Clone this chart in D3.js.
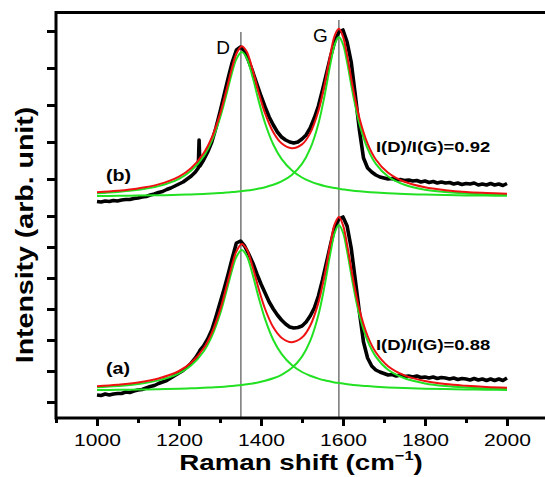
<!DOCTYPE html>
<html>
<head>
<meta charset="utf-8">
<script src="https://cdn.jsdelivr.net/npm/d3@7"></script>
<style>
  body { margin: 0; background: #fff; }
  text { font-family: "Liberation Sans", Arial, sans-serif; }
</style>
</head>
<body>
<svg id="chart" width="545" height="477"></svg>
<script>
// measured spectra, Raman shift in cm-1, intensity in arb. counts
var rawShift = [1000,1010,1020,1030,1040,1050,1060,1070,1080,1090,1100,1110,1120,1130,1140,1150,1160,1170,1180,1190,
  1200,1210,1220,1230,1240,1247,1249,1251,1260,1270,1280,1290,1300,1310,1320,1330,1340,1350,1360,1370,1380,1390,
  1400,1410,1420,1430,1440,1450,1460,1470,1480,1490,1500,1510,1520,1530,1540,1550,1560,1570,1580,1590,1600,1610,
  1620,1630,1640,1650,1660,1670,1680,1690,1700,1710,1720,1730,1740,1750,1760,1770,1780,1790,1800,1810,1820,1830,
  1840,1850,1860,1870,1880,1890,1900,1910,1920,1930,1940,1950,1960,1970,1980,1990,2000];

var rawA = [230,225,240,230,240,245,245,260,255,270,280,285,300,315,325,345,360,375,400,425,
  450,475,510,550,600,645,660,675,720,790,880,1010,1150,1290,1440,1600,1750,1770,1720,1640,1550,1440,
  1340,1250,1160,1090,1030,980,940,910,900,905,920,960,1020,1100,1220,1380,1560,1740,1910,1990,2010,1920,
  1700,1380,1060,760,600,520,480,460,445,430,435,420,430,415,420,410,420,405,410,400,410,395,
  405,400,390,400,385,395,390,380,395,380,390,375,390,375,390,375,400];

var rawB = [265,260,270,265,275,270,280,285,285,295,300,310,315,330,340,355,365,385,400,420,
  440,460,490,520,560,600,880,620,680,760,860,1000,1160,1330,1500,1660,1780,1810,1770,1670,1560,1440,
  1320,1210,1110,1030,960,910,880,860,850,860,890,930,1000,1100,1220,1380,1550,1720,1870,1960,1980,1860,
  1660,1330,980,700,600,560,530,510,500,490,495,480,485,475,480,470,475,460,470,455,465,450,
  460,450,455,440,450,435,445,440,450,430,440,430,445,430,440,425,445];

// Lorentzian fits: total (red), D band and G band (green)
var fitShift = [1000,1050,1100,1150,1200,1230,1260,1280,1300,1315,1330,1340,1353,1365,1380,1395,1410,1430,1450,1475,
  1500,1520,1540,1555,1570,1580,1590,1600,1610,1625,1640,1660,1680,1710,1750,1800,1850,1900,1950,2000];

var fitA  = [317,332,354,395,470,554,697,852,1079,1302,1538,1666,1740,1689,1505,1282,1090,907,803,758,
  804,923,1154,1428,1760,1941,2010,1929,1734,1382,1085,820,657,518,426,369,339,322,310,302];
var fitDA = [307,320,340,376,447,527,665,816,1038,1257,1488,1612,1680,1622,1429,1195,988,780,641,529,
  460,422,394,377,364,356,350,344,338,331,325,319,313,306,299,293,289,286,283,281];
var fitGA = [280,282,284,288,293,297,302,306,311,315,320,324,330,337,346,357,372,397,432,499,
  614,771,1030,1321,1666,1855,1930,1855,1666,1321,1030,771,614,482,397,346,320,306,297,291];

var fitB  = [358,373,396,436,514,600,747,905,1139,1369,1612,1742,1818,1765,1575,1345,1146,957,847,798,
  836,949,1170,1433,1753,1927,1992,1914,1726,1386,1100,843,685,552,462,407,378,360,350,342];
var fitDB = [348,361,382,419,492,574,716,871,1100,1325,1563,1690,1760,1701,1502,1261,1048,835,691,577,
  505,466,437,420,407,399,392,386,380,373,367,360,354,347,340,334,329,326,324,322];
var fitGB = [320,322,324,327,332,336,341,344,349,354,359,362,368,374,383,394,408,432,466,531,
  641,793,1043,1323,1656,1838,1910,1838,1656,1323,1043,793,641,515,432,383,359,344,336,330];

var offsetB = 1900;   // spectrum (b) is stacked above (a)

var peakLines = [{ name: "D", shift: 1351, top: 3860 }, { name: "G", shift: 1590, top: 3980 }];
var ratios = [{ label: "I(D)/I(G)=0.88", level: 680 }, { label: "I(D)/I(G)=0.92", level: 2660 }];
var sampleNames = [{ label: "(a)", level: 440 }, { label: "(b)", level: 2370 }];

var xMajor = [1000, 1200, 1400, 1600, 1800, 2000];
var xMinor = [900, 1100, 1300, 1500, 1700, 1900, 2100];
var yTicks = [160, 470, 780, 1090, 1400, 1710, 2020, 2390, 2760, 3130, 3500, 3870];

var svg = d3.select("#chart");
var x = d3.scaleLinear().domain([900, 2100]).range([56, 548]);
var y = d3.scaleLinear().domain([0, 4060]).range([418, 12]);

// stretched text helper (the original lettering is wide)
function addText(px, py, txt, size, weight, stretch, anchor) {
  return svg.append("text")
    .attr("transform", "translate(" + px + "," + py + ") scale(" + stretch + ",1)")
    .attr("text-anchor", anchor || "start")
    .style("font-size", size + "px")
    .style("font-weight", weight)
    .text(txt);
}

// peak position markers
peakLines.forEach(function(p) {
  svg.append("line")
    .attr("x1", x(p.shift)).attr("x2", x(p.shift))
    .attr("y1", y(p.top)).attr("y2", y(0) - 1)
    .attr("stroke", "#444").attr("stroke-width", 1.1);
  addText(x(p.shift) - 11, y(p.top) + 21.5, p.name, 19, "normal", 1, "end");
});

function series(xs, ys, off) {
  return xs.map(function(d, i) { return [d, ys[i] + off]; });
}

var rawLine = d3.line().x(function(d) { return x(d[0]); }).y(function(d) { return y(d[1]); });
var fitLine = d3.line().x(function(d) { return x(d[0]); }).y(function(d) { return y(d[1]); })
  .curve(d3.curveCatmullRom);

var spectra = [
  { raw: rawA, fit: fitA, d: fitDA, g: fitGA, off: 0 },
  { raw: rawB, fit: fitB, d: fitDB, g: fitGB, off: offsetB }
];

spectra.forEach(function(s) {
  svg.append("path").attr("d", rawLine(series(rawShift, s.raw, s.off)))
    .attr("fill", "none").attr("stroke", "#000").attr("stroke-width", 3.6)
    .attr("stroke-linejoin", "round");
  [s.d, s.g].forEach(function(band) {
    svg.append("path").attr("d", fitLine(series(fitShift, band, s.off)))
      .attr("fill", "none").attr("stroke", "#22e022").attr("stroke-width", 2);
  });
  svg.append("path").attr("d", fitLine(series(fitShift, s.fit, s.off)))
    .attr("fill", "none").attr("stroke", "#ee1111").attr("stroke-width", 2);
});

// axes
var xAxis = svg.append("g").attr("transform", "translate(0," + y(0) + ")")
  .call(d3.axisBottom(x).tickValues(xMajor).tickSize(8).tickPadding(8).tickFormat(d3.format("d")));
svg.append("g").attr("transform", "translate(0," + y(0) + ")")
  .call(d3.axisBottom(x).tickValues(xMinor).tickSize(5).tickFormat(""));
svg.append("g").attr("transform", "translate(" + x(900) + ",0)")
  .call(d3.axisLeft(y).tickValues(yTicks).tickSize(9).tickFormat(""));

svg.selectAll(".domain").remove();
svg.selectAll(".tick line").attr("stroke", "#000").attr("stroke-width", 3);
xAxis.selectAll(".tick text")
  .attr("transform", "scale(1.24,1)")
  .style("font-size", "17px").style("fill", "#000").style("font-family", "'Liberation Sans', Arial, sans-serif");

svg.append("rect")
  .attr("x", x(900)).attr("y", y(4060) + 0.5)
  .attr("width", x(2100) - x(900)).attr("height", y(0) - y(4060) - 0.5)
  .attr("fill", "none").attr("stroke", "#000").attr("stroke-width", 3);

// annotations
ratios.forEach(function(r) { addText(376, y(r.level), r.label, 15, "bold", 1.23); });
sampleNames.forEach(function(s) { addText(106, y(s.level), s.label, 16, "bold", 1.23); });

// axis titles
var xt = svg.append("text")
  .attr("transform", "translate(301,470) scale(1.26,1)")
  .attr("text-anchor", "middle")
  .style("font-size", "22px").style("font-weight", "bold");
xt.append("tspan").text("Raman shift (cm");
xt.append("tspan").attr("dy", -10).style("font-size", "13px").text("\u22121");
xt.append("tspan").attr("dy", 10).text(")");

svg.append("text")
  .attr("transform", "translate(33,235) rotate(-90) scale(1.24,1)")
  .attr("text-anchor", "middle")
  .style("font-size", "23px").style("font-weight", "bold")
  .text("Intensity (arb. unit)");
</script>
</body>
</html>
